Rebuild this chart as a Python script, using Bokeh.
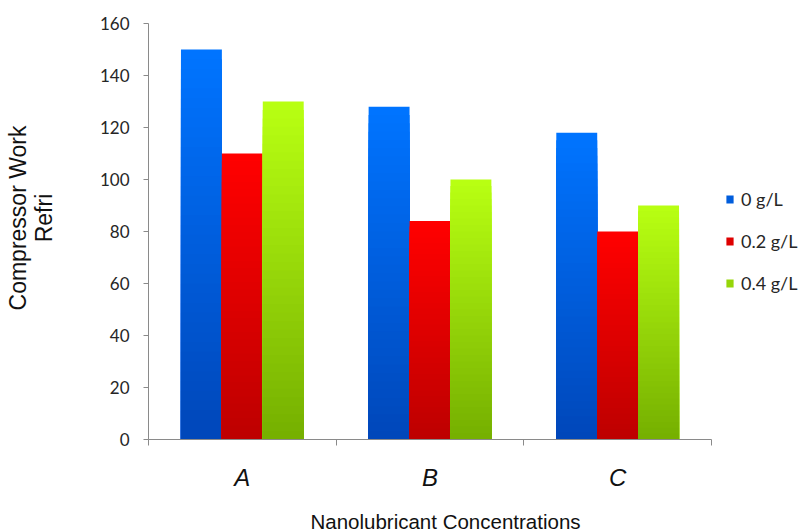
import math
from bokeh.plotting import figure
from bokeh.models import ColumnDataSource, FixedTicker, Label, Legend, LegendItem, Range1d
from bokeh.embed import file_html
from bokeh.resources import INLINE

# ---- data ----
categories = ["A", "B", "C"]
series_names = ["0 g/L", "0.2 g/L", "0.4 g/L"]
work_0 = [150, 128, 118]
work_02 = [110, 84, 80]
work_04 = [130, 100, 90]
y_ticks = [0, 20, 40, 60, 80, 100, 120, 140, 160]
y_title_1 = "Compressor Work"
y_title_2 = "Refri"
x_title = "Nanolubricant Concentrations"

series_values = [work_0, work_02, work_04]
top_colors = [(0, 116, 255), (255, 0, 0), (184, 255, 18)]
bottom_colors = [(0, 70, 184), (188, 0, 0), (116, 174, 0)]

BAR_W = 0.218
N_SLICES = 40

# canvas geometry: plot area spans x 148..711 px, y 23..439 px
PX_X = 563 / len(categories)        # px per category
PX_Y = 416 / 160                    # px per unit of y
x_start = -148 / PX_X
x_end = (800 - 148) / PX_X
y_start = -(531 - 439) / PX_Y
y_end = 160 + 23 / PX_Y

p = figure(width=800, height=531, output_backend="svg", toolbar_location=None,
           x_range=Range1d(x_start, x_end), y_range=Range1d(y_start, y_end),
           min_border=0)
p.outline_line_color = None
p.xgrid.visible = False
p.ygrid.visible = False
p.background_fill_color = "white"
p.border_fill_color = "white"


def mix(c1, c2, t):
    return "#%02x%02x%02x" % tuple(int(round(a + (b - a) * t)) for a, b in zip(c1, c2))


legend_items = []
for j, vals in enumerate(series_values):
    xs, tops, cols = [], [], []
    for i, v in enumerate(vals):
        xc = i + 0.5 + (j - 1) * BAR_W
        for k in range(N_SLICES, 0, -1):
            xs.append(xc)
            tops.append(v * k / N_SLICES)
            cols.append(mix(top_colors[j], bottom_colors[j], 1 - k / N_SLICES))
    src = ColumnDataSource(dict(x=xs, top=tops, color=cols))
    r = p.vbar(x="x", top="top", bottom=0, width=BAR_W, source=src,
               fill_color="color", line_color=None)
    legend_items.append(LegendItem(label=series_names[j], renderers=[r], index=N_SLICES // 2))

# ---- y axis ----
yax = p.yaxis[0]
yax.fixed_location = 0
yax.bounds = (0, 160)
yax.ticker = FixedTicker(ticks=y_ticks)
yax.axis_line_color = "#8a8a8a"
yax.major_tick_line_color = "#8a8a8a"
yax.major_tick_in = 0
yax.major_tick_out = 5
yax.minor_tick_line_color = None
yax.major_label_text_font = "Lato"
yax.major_label_text_font_size = "17px"
yax.major_label_text_color = "#262626"
yax.major_label_standoff = 14

# ---- x axis ----
xax = p.xaxis[0]
xax.fixed_location = 0
xax.bounds = (0, len(categories))
xax.ticker = FixedTicker(ticks=[i + 0.5 for i in range(len(categories))],
                         minor_ticks=list(range(len(categories) + 1)))
xax.major_label_overrides = {i + 0.5: c for i, c in enumerate(categories)}
xax.axis_line_color = "#8a8a8a"
xax.major_tick_line_color = None
xax.major_tick_in = 0
xax.major_tick_out = 0
xax.minor_tick_line_color = "#8a8a8a"
xax.minor_tick_in = 0
xax.minor_tick_out = 6
xax.major_label_text_font = "Liberation Sans"
xax.major_label_text_font_style = "italic"
xax.major_label_text_font_size = "24px"
xax.major_label_text_color = "#111111"
xax.major_label_standoff = 18

# ---- titles ----
title_font = "Liberation Sans"
p.add_layout(Label(x=(17.5 - 148) / PX_X, y=(439 - 217.5) / PX_Y, text=y_title_1,
                   angle=math.pi / 2, text_align="center", text_baseline="middle",
                   text_font=title_font, text_font_size="23px", text_color="#111111"))
p.add_layout(Label(x=(43 - 148) / PX_X, y=(439 - 217.5) / PX_Y, text=y_title_2,
                   angle=math.pi / 2, text_align="center", text_baseline="middle",
                   text_font=title_font, text_font_size="23px", text_color="#111111"))
p.add_layout(Label(x=(445 - 148) / PX_X, y=(439 - 520.5) / PX_Y, text=x_title,
                   text_align="center", text_baseline="middle",
                   text_font=title_font, text_font_size="20.5px", text_color="#111111"))

# ---- legend ----
legend = Legend(items=legend_items, location=(725, 237), orientation="vertical",
                glyph_width=9, glyph_height=10, label_standoff=7, label_height=22,
                spacing=20, padding=0, margin=0,
                border_line_color=None, background_fill_alpha=0,
                label_text_font="Lato", label_text_font_size="18px",
                label_text_color="#262626")
p.add_layout(legend)

open("out.html", "w").write(file_html(p, INLINE))
